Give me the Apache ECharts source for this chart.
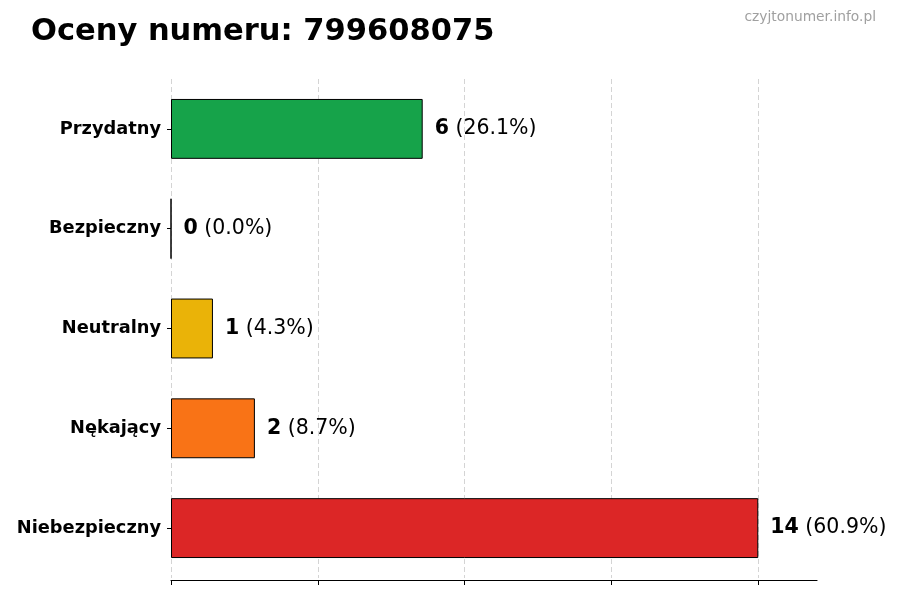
<!DOCTYPE html>
<html><head><meta charset="utf-8">
<script src="https://cdn.jsdelivr.net/npm/echarts@6/dist/echarts.min.js"></script>
<style>html,body{margin:0;padding:0;background:#fff}#c{width:900px;height:600px}</style>
</head><body><div id="c"></div>
<script>
const categories = ['Przydatny', 'Bezpieczny', 'Neutralny', 'Nękający', 'Niebezpieczny'];
const counts = [6, 0, 1, 2, 14];
const colors = ['#16a34a', '#9ca3af', '#eab308', '#f97316', '#dc2626'];
const titleText = 'Oceny numeru: 799608075';
const watermark = 'czyjtonumer.info.pl';
const xTicks = [0, 3.5, 7, 10.5, 14];

const total = counts.reduce((a, b) => a + b, 0);
const FONT = '"DejaVu Sans", sans-serif';
const chart = echarts.init(document.getElementById('c'));
chart.setOption({
  animation: false,
  title: [
    { text: titleText, left: 26, top: 12, textStyle: { fontFamily: FONT, fontWeight: 'bold', fontSize: 30.5, color: '#000' } },
    { text: watermark, right: 19, top: 5, textStyle: { fontFamily: FONT, fontWeight: 'normal', fontSize: 13.8, color: '#a0a0a0' } }
  ],
  grid: { left: 171, right: 83, top: 79, bottom: 22 },
  xAxis: {
    type: 'value', min: 0, max: 15.4, interval: 3.5,
    offset: 2,
    axisLine: { show: true, lineStyle: { color: '#000', width: 1.2 } },
    axisTick: { show: true, length: 5, lineStyle: { color: '#000' }, customValues: xTicks },
    axisLabel: { show: false },
    splitLine: { show: true, lineStyle: { color: '#d4d4d4', type: [5, 3], width: 1 } }
  },
  yAxis: {
    type: 'category', data: categories, inverse: true,
    axisLine: { show: false },
    axisTick: { show: true, alignWithLabel: true, length: 4, lineStyle: { color: '#000' } },
    axisLabel: { margin: 10, fontFamily: FONT, fontWeight: 'bold', fontSize: 17.8, color: '#000' }
  },
  series: [{
    type: 'bar',
    barWidth: '60%',
    data: counts.map((v, i) => ({ value: v, itemStyle: { color: colors[i], borderColor: '#000', borderWidth: 1 } })),
    label: {
      show: true, position: 'right', distance: 12,
      formatter: p => '{b|' + counts[p.dataIndex] + '}{n| (' + (counts[p.dataIndex] / total * 100).toFixed(1) + '%)}',
      rich: {
        b: { fontFamily: FONT, fontWeight: 'bold', fontSize: 20.5, color: '#000' },
        n: { fontFamily: FONT, fontWeight: 'normal', fontSize: 20.5, color: '#000' }
      }
    }
  }]
});
</script></body></html>
